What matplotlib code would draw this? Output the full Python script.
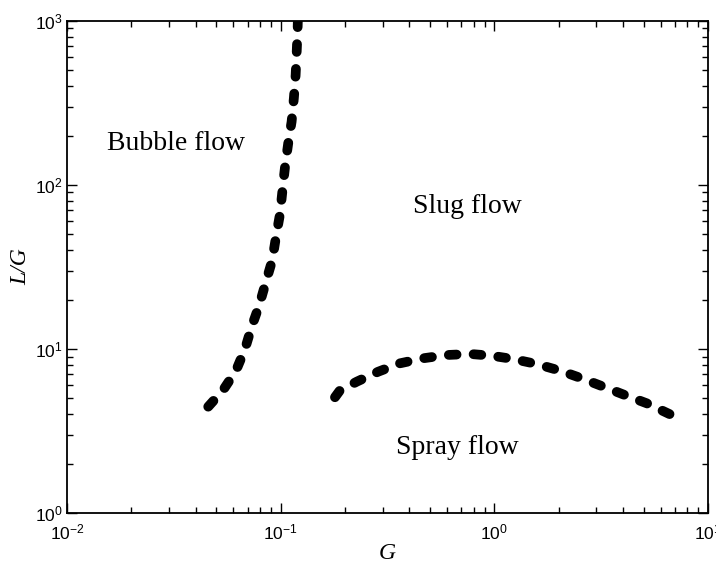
import matplotlib
matplotlib.use("Agg")
import matplotlib.pyplot as plt
from matplotlib.ticker import LogLocator, NullFormatter

plt.rcParams['font.family'] = ['Liberation Sans', 'DejaVu Sans']

# Bubble / slug boundary
bubble_G = [0.0458, 0.0538, 0.0618, 0.0681, 0.0732, 0.0794, 0.0851, 0.0914,
            0.0951, 0.0993, 0.102, 0.105, 0.109, 0.1125, 0.1153, 0.1175,
            0.1188, 0.120, 0.1203]
bubble_LG = [4.45, 5.62, 7.38, 10.0, 13.7, 18.5, 25.4, 34.9,
             48.4, 66.6, 93.2, 132, 188, 243, 339, 469,
             638, 881, 1000]

# Slug / spray boundary
spray_G = [0.1795, 0.189, 0.227, 0.286, 0.362, 0.465, 0.598, 0.769, 0.971,
           1.225, 1.577, 2.03, 2.56, 3.24, 4.08, 5.16, 7.0]
spray_LG = [5.08, 5.57, 6.32, 7.27, 8.18, 8.78, 9.19, 9.33, 9.10,
            8.69, 8.10, 7.38, 6.63, 5.89, 5.24, 4.67, 3.87]

regions = ['Bubble flow', 'Slug flow', 'Spray flow']
region_G = [0.0324, 0.745, 0.671]
region_LG = [178, 73.5, 2.51]

fig = plt.figure(figsize=(7.16, 5.64), dpi=100)
ax = fig.add_axes([0.0936, 0.0904, 0.8952, 0.8724])

dash = (0, (0.8, 1.75))
for xs, ys in [(bubble_G, bubble_LG), (spray_G, spray_LG)]:
    ax.plot(xs, ys, color='black', lw=7, linestyle=dash,
            dash_capstyle='round', solid_capstyle='round')

for name, gx, gy in zip(regions, region_G, region_LG):
    ax.text(gx, gy, name, family='Liberation Serif', fontsize=20,
            ha='center', va='center')

ax.set_xscale('log')
ax.set_yscale('log')
ax.set_xlim(1e-2, 1e1)
ax.set_ylim(1e0, 1e3)

ax.xaxis.set_minor_locator(LogLocator(base=10, subs=range(2, 10)))
ax.yaxis.set_minor_locator(LogLocator(base=10, subs=range(2, 10)))
ax.xaxis.set_minor_formatter(NullFormatter())
ax.yaxis.set_minor_formatter(NullFormatter())

ax.tick_params(which='both', direction='in', top=True, right=True,
               labelsize=12.5, width=1)
ax.tick_params(which='major', length=7)
ax.tick_params(which='minor', length=4)
ax.tick_params(axis='x', pad=7)
ax.tick_params(axis='y', pad=3)
for s in ax.spines.values():
    s.set_linewidth(1.3)

ax.set_xlabel('G', family='Liberation Serif', style='italic', fontsize=17,
              labelpad=0)
ax.set_ylabel('L/G', family='Liberation Serif', style='italic', fontsize=17,
              labelpad=3)

fig.savefig('out.png', dpi=100)
